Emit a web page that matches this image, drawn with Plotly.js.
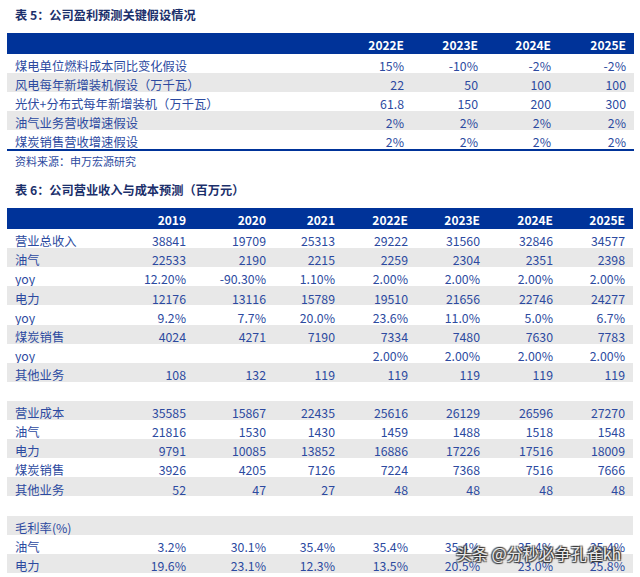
<!DOCTYPE html>
<html>
<head>
<meta charset="utf-8">
<script src="https://cdn.plot.ly/plotly-3.0.1.min.js"></script>
<style>html,body{margin:0;padding:0;background:#fff;}#chart{width:640px;height:577px;}</style>
</head>
<body>
<div id="chart"></div>
<script>
// ---------- Table 5 data ----------
const t5Title = "表 5：公司盈利预测关键假设情况";
const t5Source = "资料来源：申万宏源研究";
const t5Years = ["2022E", "2023E", "2024E", "2025E"];
const t5Labels = ["煤电单位燃料成本同比变化假设", "风电每年新增装机假设（万千瓦）", "光伏+分布式每年新增装机（万千瓦）", "油气业务营收增速假设", "煤炭销售营收增速假设"];
const t5Fuel = ["15%", "-10%", "-2%", "-2%"];
const t5Wind = ["22", "50", "100", "100"];
const t5Solar = ["61.8", "150", "200", "300"];
const t5OilGas = ["2%", "2%", "2%", "2%"];
const t5Coal = ["2%", "2%", "2%", "2%"];

// ---------- Table 6 data ----------
const t6Title = "表 6：公司营业收入与成本预测（百万元）";
const t6Years = ["2019", "2020", "2021", "2022E", "2023E", "2024E", "2025E"];
const t6Labels = ["营业总收入", "油气", "yoy", "电力", "yoy", "煤炭销售", "yoy", "其他业务", "",
                  "营业成本", "油气", "电力", "煤炭销售", "其他业务", "",
                  "毛利率(%)", "油气", "电力"];
const revTotal   = ["38841", "19709", "25313", "29222", "31560", "32846", "34577"];
const revOil     = ["22533", "2190", "2215", "2259", "2304", "2351", "2398"];
const revOilYoy  = ["12.20%", "-90.30%", "1.10%", "2.00%", "2.00%", "2.00%", "2.00%"];
const revPower   = ["12176", "13116", "15789", "19510", "21656", "22746", "24277"];
const revPowYoy  = ["9.2%", "7.7%", "20.0%", "23.6%", "11.0%", "5.0%", "6.7%"];
const revCoal    = ["4024", "4271", "7190", "7334", "7480", "7630", "7783"];
const revCoalYoy = ["", "", "", "2.00%", "2.00%", "2.00%", "2.00%"];
const revOther   = ["108", "132", "119", "119", "119", "119", "119"];
const blankRow   = ["", "", "", "", "", "", ""];
const costTotal  = ["35585", "15867", "22435", "25616", "26129", "26596", "27270"];
const costOil    = ["21816", "1530", "1430", "1459", "1488", "1518", "1548"];
const costPower  = ["9791", "10085", "13852", "16886", "17226", "17516", "18009"];
const costCoal   = ["3926", "4205", "7126", "7224", "7368", "7516", "7666"];
const costOther  = ["52", "47", "27", "48", "48", "48", "48"];
const gmHeader   = ["", "", "", "", "", "", ""];
const gmOil      = ["3.2%", "30.1%", "35.4%", "35.4%", "35.4%", "35.4%", "35.4%"];
const gmPower    = ["19.6%", "23.1%", "12.3%", "13.5%", "20.5%", "23.0%", "25.8%"];
const watermark = "头条 @分秒必争孔雀kh";

// ---------- styling ----------
const W = 640, H = 577;
const NAVY = "#003399";
const GREY = "#e8e8e8";
const TXT = "#2c4aa0";
const FONT = "Noto Sans CJK SC, Noto Sans, sans-serif";

function buildColumns(labels, rows) {
  const nCols = rows[0].length;
  const cols = [labels];
  for (let c = 0; c < nCols; c++) cols.push(rows.map(r => r[c]));
  return cols;
}
function fills(nRows, nCols, greyFn) {
  const colFill = [];
  for (let r = 0; r < nRows; r++) colFill.push(greyFn(r) ? GREY : "#ffffff");
  const out = [];
  for (let c = 0; c < nCols; c++) out.push(colFill);
  return out;
}

const t5Rows = [t5Fuel, t5Wind, t5Solar, t5OilGas, t5Coal];
const t6Rows = [revTotal, revOil, revOilYoy, revPower, revPowYoy, revCoal, revCoalYoy, revOther, blankRow,
                costTotal, costOil, costPower, costCoal, costOther, blankRow, gmHeader, gmOil, gmPower];

const t5Fill = fills(t5Rows.length, 5, r => r % 2 === 1);
const t6Fill = fills(t6Rows.length, 8, r => [1,3,5,7,9,11,13,15,17].includes(r));

function py(px) { return 1 - px / H; }

const table5 = {
  type: "table",
  domain: {x: [7 / W, 634 / W], y: [py(152), py(33)]},
  columnwidth: [331, 74, 74, 73, 75],
  header: {
    values: [""].concat(t5Years),
    align: ["left", "right", "right", "right", "right"],
    height: 21,
    fill: {color: NAVY},
    line: {color: NAVY, width: 0},
    font: {family: FONT, size: 12, color: "#ffffff", weight: "bold"}
  },
  cells: {
    values: buildColumns(t5Labels, t5Rows),
    align: ["left", "right", "right", "right", "right"],
    height: 19,
    fill: {color: t5Fill},
    line: {color: t5Fill, width: 0},
    font: {family: FONT, size: 12.3, color: TXT}
  }
};

const table6 = {
  type: "table",
  domain: {x: [7 / W, 633 / W], y: [0, py(208)]},
  columnwidth: [107, 80, 80, 69, 73, 72, 73, 72],
  header: {
    values: [""].concat(t6Years),
    align: ["left"].concat(t6Years.map(() => "right")),
    height: 21,
    fill: {color: NAVY},
    line: {color: NAVY, width: 0},
    font: {family: FONT, size: 12, color: "#ffffff", weight: "bold"}
  },
  cells: {
    values: buildColumns(t6Labels, t6Rows),
    align: ["left"].concat(t6Years.map(() => "right")),
    height: 19.1,
    fill: {color: t6Fill},
    line: {color: t6Fill, width: 0},
    font: {family: FONT, size: 12.3, color: TXT}
  }
};

const layout = {
  width: W, height: H,
  margin: {l: 0, r: 0, t: 0, b: 0},
  paper_bgcolor: "#ffffff",
  showlegend: false,
  shapes: [
    {type: "line", xref: "paper", yref: "paper", x0: 7 / W, x1: 634 / W, y0: py(150), y1: py(150),
     line: {color: NAVY, width: 2}}
  ],
  annotations: [
    {text: t5Title, xref: "paper", yref: "paper", x: 13 / W, y: py(15), xanchor: "left", yanchor: "middle",
     showarrow: false, font: {family: FONT, size: 12.2, color: "#1b2f6b", weight: "bold"}},
    {text: t5Source, xref: "paper", yref: "paper", x: 13 / W, y: py(161), xanchor: "left", yanchor: "middle",
     showarrow: false, font: {family: FONT, size: 11, color: TXT}},
    {text: t6Title, xref: "paper", yref: "paper", x: 13 / W, y: py(190), xanchor: "left", yanchor: "middle",
     showarrow: false, font: {family: FONT, size: 12.2, color: "#1b2f6b", weight: "bold"}},
    {text: watermark, xref: "paper", yref: "paper", x: 538 / W, y: py(553), xanchor: "center", yanchor: "middle",
     showarrow: false, font: {family: FONT, size: 16, color: "rgba(255,255,255,0.9)", shadow: "1px 1px 1px #333, -1px -1px 1px #333, 1px -1px 1px #333, -1px 1px 1px #333"}}
  ]
};

Plotly.newPlot("chart", [table5, table6], layout, {displayModeBar: false, staticPlot: true});
</script>
</body>
</html>
